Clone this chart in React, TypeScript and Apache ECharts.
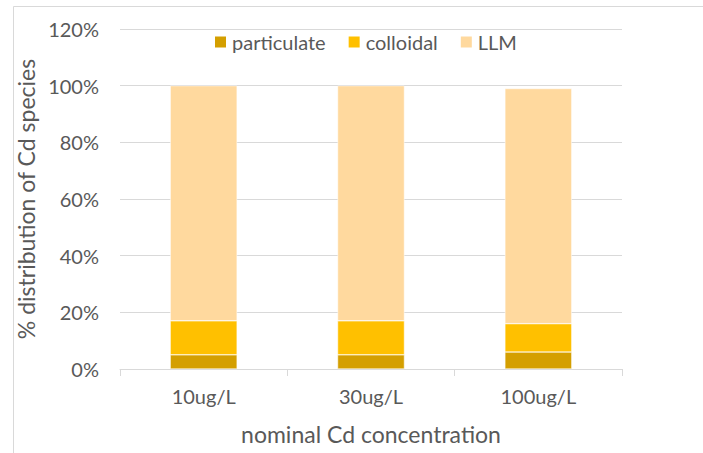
import React, { useEffect, useRef } from "react";
import * as echarts from "echarts";

const categories = ["10ug/L", "30ug/L", "100ug/L"];
const particulate = [5, 5, 6];
const colloidal = [12, 12, 10];
const llm = [83, 83, 83];

const FONT = "Lato, 'Noto Sans', sans-serif";
const TXT = "#595959";

export default function App() {
  const ref = useRef<HTMLDivElement>(null);
  useEffect(() => {
    if (!ref.current) return;
    const chart = echarts.init(ref.current, undefined, { renderer: "svg" });
    const barCommon = {
      type: "bar",
      stack: "total",
      barWidth: "40%",
      itemStyle: { borderColor: "#ffffff", borderWidth: 0.5 },
    };
    chart.setOption({
      animation: false,
      backgroundColor: "#ffffff",
      textStyle: { fontFamily: FONT },
      graphic: [
        {
          type: "rect",
          shape: { x: 13.5, y: 6.5, width: 720, height: 480 },
          style: { fill: "none", stroke: "#d9d9d9", lineWidth: 1 },
          silent: true,
          z: -1,
        },
      ],
      legend: {
        top: 27,
        left: 208,
        itemWidth: 13,
        itemHeight: 13,
        itemGap: 21,
        icon: "rect",
        textStyle: { fontFamily: FONT, fontSize: 20, color: TXT, padding: [0, 0, 0, 0] },
        data: ["particulate", "colloidal", "LLM"],
      },
      grid: { left: 120, right: 81, top: 29, bottom: 84 },
      xAxis: {
        type: "category",
        data: categories,
        name: "nominal Cd concentration",
        nameLocation: "middle",
        nameGap: 53,
        nameTextStyle: { fontFamily: FONT, fontSize: 23, color: TXT },
        axisLine: { lineStyle: { color: "#d9d9d9", width: 1 } },
        axisTick: { show: true, length: 7, lineStyle: { color: "#d9d9d9" } },
        axisLabel: { fontFamily: FONT, fontSize: 20, color: TXT, margin: 17 },
      },
      yAxis: {
        type: "value",
        min: 0,
        max: 120,
        interval: 20,
        name: "% distribution of Cd species",
        nameLocation: "middle",
        nameGap: 74,
        nameTextStyle: { fontFamily: FONT, fontSize: 23, color: TXT },
        axisLine: { show: false },
        axisTick: { show: false },
        splitLine: { lineStyle: { color: "#d9d9d9", width: 1 } },
        axisLabel: { fontFamily: FONT, fontSize: 20, color: TXT, margin: 21, formatter: "{value}%" },
      },
      series: [
        { ...barCommon, name: "particulate", data: particulate, itemStyle: { ...barCommon.itemStyle, color: "#D49F00" } },
        { ...barCommon, name: "colloidal", data: colloidal, itemStyle: { ...barCommon.itemStyle, color: "#FFC000" } },
        { ...barCommon, name: "LLM", data: llm, itemStyle: { ...barCommon.itemStyle, color: "#FFD99E" } },
      ],
    });
    return () => chart.dispose();
  }, []);
  return (
    <div
      ref={ref}
      style={{ position: "fixed", left: 0, top: 0, width: 703, height: 453 }}
    />
  );
}
